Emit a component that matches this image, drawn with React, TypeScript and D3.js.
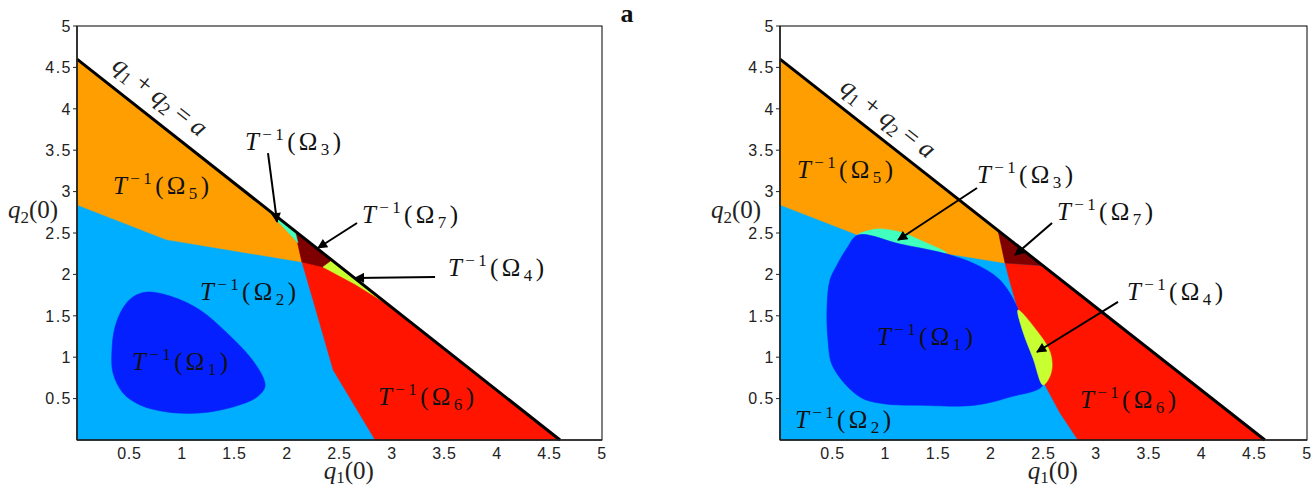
import React from "react";
import * as d3 from "d3";

type Pt = [number, number];

const tickValues = [0.5, 1, 1.5, 2, 2.5, 3, 3.5, 4, 4.5, 5];
const boundaryA = 4.6; // the line q1 + q2 = a

const colors = {
  o1: "#0520ff",
  o2: "#00aeff",
  o3: "#40ffbf",
  o4: "#c8ff30",
  o5: "#ff9e00",
  o6: "#ff1400",
  o7: "#7f0000",
};

// ---- left panel: region boundaries in (q1(0), q2(0))
const leftOmega2: Pt[] = [[0, 0], [0, 4.6], [4.6, 0]];
const leftOmega5: Pt[] = [[0, 4.6], [1.79, 2.81], [2.105, 2.38], [2.143, 2.15], [0.85, 2.42], [0, 2.84]];
const leftOmega6: Pt[] = [[2.143, 2.15], [2.076, 2.524], [4.6, 0], [2.84, 0], [2.44, 0.845], [2.248, 1.691]];
const leftOmega7: Pt[] = [[2.076, 2.524], [2.43, 2.17], [2.343, 2.089], [2.143, 2.15]];
const leftOmega4: Pt[] = [[2.343, 2.089], [2.43, 2.17], [2.98, 1.62], [2.65, 1.88]];
const leftOmega3: Pt[] = [[1.79, 2.81], [2.076, 2.524], [2.105, 2.38]];
const leftOmega1: Pt[] = [
  [0.667, 1.787], [0.914, 1.727], [1.171, 1.57], [1.429, 1.292], [1.648, 1.002],
  [1.771, 0.761], [1.79, 0.64], [1.714, 0.519], [1.486, 0.399], [1.171, 0.326],
  [0.857, 0.338], [0.6, 0.423], [0.438, 0.568], [0.343, 0.809], [0.333, 1.087],
  [0.362, 1.365], [0.438, 1.594], [0.533, 1.727],
];

// ---- right panel
const rightOmega2: Pt[] = [[0, 0], [0, 4.6], [4.6, 0]];
const rightOmega5: Pt[] = [[0, 4.6], [2.068, 2.532], [2.135, 2.138], [1.584, 2.25], [0.74, 2.476], [0, 2.84]];
const rightOmega7: Pt[] = [[2.068, 2.532], [2.495, 2.105], [2.135, 2.138]];
const rightOmega6: Pt[] = [
  [2.135, 2.138], [2.495, 2.1], [4.6, 0], [2.827, 0], [2.657, 0.326], [2.514, 0.664],
  [2.258, 1.57], [2.182, 1.908],
];
const rightOmega3: Pt[] = [[0.74, 2.476], [0.92, 2.548], [1.139, 2.512], [1.328, 2.415], [1.584, 2.258], [1.139, 2.367]];
const rightOmega1: Pt[] = [
  [0.74, 2.476], [1.139, 2.367], [1.584, 2.246], [1.869, 2.114], [2.087, 1.932],
  [2.249, 1.606], [2.306, 1.304], [2.4, 0.99], [2.495, 0.664], [2.182, 0.519],
  [1.85, 0.42], [1.3, 0.42], [1.0, 0.435], [0.759, 0.519], [0.503, 0.882],
  [0.455, 1.208], [0.446, 1.606], [0.474, 1.932], [0.541, 2.114], [0.636, 2.319],
];
const rightOmega4: Pt[] = [
  [2.258, 1.57], [2.467, 1.268], [2.562, 1.063], [2.581, 0.87], [2.543, 0.725],
  [2.495, 0.664], [2.4, 0.99], [2.306, 1.304],
];

// label anchors (left baseline) and arrows, in data units
const leftLabels = [
  { k: 5, at: [0.343, 2.97] },
  { k: 3, at: [1.6, 3.5] },
  { k: 7, at: [2.714, 2.621] },
  { k: 4, at: [3.533, 1.981] },
  { k: 2, at: [1.171, 1.691] },
  { k: 1, at: [0.524, 0.845] },
  { k: 6, at: [2.867, 0.423] },
];
const leftArrows = [
  { from: [1.819, 3.466], to: [1.905, 2.633] },
  { from: [2.667, 2.621], to: [2.295, 2.319] },
  { from: [3.41, 1.969], to: [2.648, 1.957] },
];
const rightLabels = [
  { k: 5, at: [0.161, 3.164] },
  { k: 3, at: [1.869, 3.104] },
  { k: 7, at: [2.628, 2.657] },
  { k: 4, at: [3.292, 1.691] },
  { k: 1, at: [0.92, 1.147] },
  { k: 2, at: [0.142, 0.145] },
  { k: 6, at: [2.846, 0.386] },
];
const rightArrows = [
  { from: [1.869, 3.043], to: [1.12, 2.415] },
  { from: [2.581, 2.621], to: [2.23, 2.234] },
  { from: [3.207, 1.667], to: [2.438, 1.063] },
];

const MATH = "'Liberation Serif', 'DejaVu Serif', serif";
const SANS = "'Liberation Sans', Arial, sans-serif";

function OmegaLabel({ x, y, k }: { x: number; y: number; k: number }) {
  return (
    <text x={x} y={y} fontFamily={MATH} fontSize={25} fill="#111" textLength={96} lengthAdjust="spacing">
      <tspan fontStyle="italic">T</tspan>
      <tspan dy={-10} fontSize={17}>−1</tspan>
      <tspan dy={10}>(Ω</tspan>
      <tspan dy={5} fontSize={17}>{k}</tspan>
      <tspan dy={-5}>)</tspan>
    </text>
  );
}

function Panel({ x0, x1, regions, labels, arrows, lineLabelAt, id }: any) {
  const x = d3.scaleLinear().domain([0, 5]).range([x0, x1]);
  const y = d3.scaleLinear().domain([0, 5]).range([440, 26]);
  const flat = d3.line<Pt>().x((d) => x(d[0])).y((d) => y(d[1])).curve(d3.curveLinearClosed);
  const smooth = d3.line<Pt>().x((d) => x(d[0])).y((d) => y(d[1])).curve(d3.curveCatmullRomClosed.alpha(0.5));

  // angle of the q1+q2=a line on screen
  const ang = (Math.atan2(y(0) - y(boundaryA), x(boundaryA) - x(0)) * 180) / Math.PI;
  const lp = [x(lineLabelAt[0]), y(lineLabelAt[1])];

  return (
    <g>
      {regions.map((r: any, i: number) => (
        <path key={i} d={(r.smooth ? smooth : flat)(r.pts) as string} fill={r.color} stroke={r.color} strokeWidth={0.5} />
      ))}
      <line x1={x(0)} y1={y(boundaryA)} x2={x(boundaryA)} y2={y(0)} stroke="#000" strokeWidth={3} />
      <rect x={x(0)} y={y(5)} width={x(5) - x(0)} height={y(0) - y(5)} fill="none" stroke="#000" strokeWidth={1} />
      <line x1={x(0)} y1={y(5)} x2={x(0)} y2={y(0)} stroke="#222" strokeWidth={1.6} />
      <line x1={x(0)} y1={y(0)} x2={x(5)} y2={y(0)} stroke="#222" strokeWidth={1.6} />

      {tickValues.map((t) => (
        <g key={"y" + t}>
          <line x1={x(0) - 4} x2={x(0)} y1={y(t)} y2={y(t)} stroke="#222" strokeWidth={1} />
          <text x={x(0) - 5} y={y(t)} dy="0.36em" textAnchor="end" fontFamily={SANS} fontSize={16} fill="#222" letterSpacing={1.5}>
            {t}
          </text>
        </g>
      ))}
      {tickValues.map((t) => (
        <text key={"x" + t} x={x(t)} y={459} textAnchor="middle" fontFamily={SANS} fontSize={16} fill="#222" letterSpacing={0.8}>
          {t}
        </text>
      ))}

      {labels.map((l: any) => (
        <OmegaLabel key={l.k} x={x(l.at[0])} y={y(l.at[1])} k={l.k} />
      ))}
      {arrows.map((a: any, i: number) => (
        <line key={i} x1={x(a.from[0])} y1={y(a.from[1])} x2={x(a.to[0])} y2={y(a.to[1])}
          stroke="#000" strokeWidth={2} markerEnd={`url(#head-${id})`} />
      ))}
      <defs>
        <marker id={`head-${id}`} viewBox="0 0 10 10" refX={9} refY={5} markerWidth={15} markerHeight={10}
          markerUnits="userSpaceOnUse" orient="auto">
          <path d="M0,0 L10,5 L0,10 z" fill="#000" />
        </marker>
      </defs>

      <text transform={`translate(${lp[0]},${lp[1]}) rotate(${ang})`} textAnchor="middle" fontFamily={MATH} fontSize={26} fill="#222">
        <tspan fontStyle="italic">q</tspan>
        <tspan dy={5} fontSize={18}>1</tspan>
        <tspan dy={-5}> + </tspan>
        <tspan fontStyle="italic">q</tspan>
        <tspan dy={5} fontSize={18}>2</tspan>
        <tspan dy={-5}> = </tspan>
        <tspan fontStyle="italic">a</tspan>
      </text>

      <text x={x0 - 69} y={218} fontFamily={MATH} fontSize={25} fill="#222">
        <tspan fontStyle="italic">q</tspan>
        <tspan dy={5} fontSize={17}>2</tspan>
        <tspan dy={-5}>(0)</tspan>
      </text>
      <text x={x(2.35)} y={479} fontFamily={MATH} fontSize={25} fill="#222">
        <tspan fontStyle="italic">q</tspan>
        <tspan dy={4} fontSize={17}>1</tspan>
        <tspan dy={-4}>(0)</tspan>
      </text>
    </g>
  );
}

export default function App() {
  const leftRegions = [
    { pts: leftOmega2, color: colors.o2 },
    { pts: leftOmega5, color: colors.o5 },
    { pts: leftOmega6, color: colors.o6 },
    { pts: leftOmega7, color: colors.o7 },
    { pts: leftOmega4, color: colors.o4 },
    { pts: leftOmega3, color: colors.o3 },
    { pts: leftOmega1, color: colors.o1, smooth: true },
  ];
  const rightRegions = [
    { pts: rightOmega2, color: colors.o2 },
    { pts: rightOmega5, color: colors.o5 },
    { pts: rightOmega6, color: colors.o6 },
    { pts: rightOmega7, color: colors.o7 },
    { pts: rightOmega3, color: colors.o3, smooth: true },
    { pts: rightOmega1, color: colors.o1, smooth: true },
    { pts: rightOmega4, color: colors.o4, smooth: true },
  ];
  return (
    <svg width={1314} height={491} style={{ position: "absolute", left: 0, top: 0, background: "#fff" }}>
      <text x={627} y={22} textAnchor="middle" fontFamily={MATH} fontWeight="bold" fontSize={26} fill="#111">a</text>
      <Panel id="l" x0={77} x1={602} regions={leftRegions} labels={leftLabels} arrows={leftArrows} lineLabelAt={[0.745, 4.073]} />
      <Panel id="r" x0={780} x1={1307} regions={rightRegions} labels={rightLabels} arrows={rightArrows} lineLabelAt={[0.98, 3.81]} />
    </svg>
  );
}
